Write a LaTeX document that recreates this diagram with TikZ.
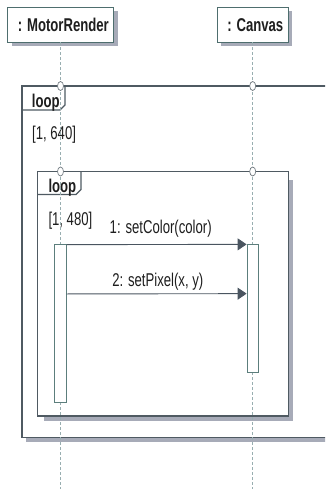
\documentclass[tikz,border=0pt]{standalone}
\usepackage{fontspec}
\setmainfont{Liberation Sans}[FakeStretch=0.71]
\usetikzlibrary{arrows.meta,shapes.geometric,shadows}
\definecolor{frm}{HTML}{4F5A62}
\definecolor{boxb}{HTML}{4E6E6E}
\definecolor{shad}{HTML}{A7ABB8}
\definecolor{life}{HTML}{98AEB0}
\definecolor{arr}{HTML}{4A5560}
\definecolor{txt}{HTML}{1E1E1E}
\definecolor{actb}{HTML}{5C7E7C}
\tikzset{
  head/.style={draw=boxb, fill=white, line width=0.8pt, minimum height=35pt, inner sep=0pt,
    drop shadow={shadow xshift=4pt, shadow yshift=-4pt, fill=shad, opacity=1}},
  headtxt/.style={text=txt, font=\fontsize{18.5}{20}\selectfont\bfseries, inner sep=0pt, anchor=base east},
  lifeline/.style={draw=life, line width=0.6pt, dash pattern=on 3pt off 2pt},
  frameline/.style={draw=frm, line width=1.1pt},
  shadowfill/.style={fill=shad, draw=none},
  gate/.style={ellipse, draw=frm!80, fill=white, line width=0.7pt, minimum width=6pt, minimum height=9pt, inner sep=0pt},
  actbox/.style={draw=actb, fill=white, line width=0.7pt, minimum width=11.5pt, inner sep=0pt},
  msg/.style={draw=arr, line width=0.9pt, -{Triangle[length=9pt,width=12pt]}},
  lbl/.style={text=txt, font=\fontsize{18.5}{20}\selectfont, inner sep=0pt},
  looplbl/.style={text=txt, font=\fontsize{18.5}{20}\selectfont\bfseries, inner sep=0pt, anchor=base west},
}
\begin{document}
\begin{tikzpicture}[x=1pt,y=-1pt]
\useasboundingbox (0,0) rectangle (325,489);
\clip (0,0) rectangle (325,489);

% lifeline heads
\node[head, minimum width=106pt] (mr) at (60.5,24.5) {};
\node[headtxt] (mrt) at (109,31.8) {: MotorRender};
\node[head, minimum width=71pt] (cv) at (252.7,24.5) {};
\node[headtxt] (cvt) at (283.5,31.8) {: Canvas};
\coordinate (mrEnd) at (60.5,489);
\coordinate (cvEnd) at (252.7,489);

% outer loop frame
\fill[shadowfill] (26,437.5) rectangle (330,441.8);
\draw[frameline] (330,86) -- (22,86) -- (22,437.5) -- (330,437.5);
\draw[frameline] (22,110) -- (60,110) -- (65,105) -- (65,86);
\node[looplbl] (loop1) at (31.7,107.3) {loop};
\node[lbl, anchor=base west] (g1) at (32,140) {[1, 640]};

% inner loop frame
\fill[shadowfill] (288.5,180) rectangle (292.5,420.5);
\fill[shadowfill] (44,416) rectangle (292.5,420.5);
\draw[frameline] (37.5,171.5) rectangle (288.5,416);
\draw[frameline] (37.5,194.5) -- (76,194.5) -- (81,189.5) -- (81,171.5);
\node[looplbl] (loop2) at (48.3,192) {loop};
\node[lbl, anchor=base west] (g2) at (48.3,225) {[1, 480]};

% lifelines
\draw[lifeline] (mr.south) -- (mrEnd);
\draw[lifeline] (cv.south) -- (cvEnd);

% gates
\node[gate] (o1) at (60.5,86) {};
\node[gate] (o2) at (252.7,86) {};
\node[gate] (i1) at (60.5,171.5) {};
\node[gate] (i2) at (252.7,171.5) {};

% activations
\node[actbox, minimum height=158.4pt] (a1) at (60.5,323.5) {};
\node[actbox, minimum height=128pt] (a2) at (252.7,308) {};

% messages
\draw[msg] ([yshift=-0.7pt]a1.north east) -- ([yshift=-0.7pt]a2.north west);
\node[lbl, anchor=base] (m1) at (160.7,233.3) {1: setColor(color)};
\draw[msg] ([yshift=-50pt]a1.north east) -- ([yshift=-50pt]a2.north west);
\node[lbl, anchor=base] (m2) at (157.8,286.7) {2: setPixel(x, y)};
\end{tikzpicture}
\end{document}
